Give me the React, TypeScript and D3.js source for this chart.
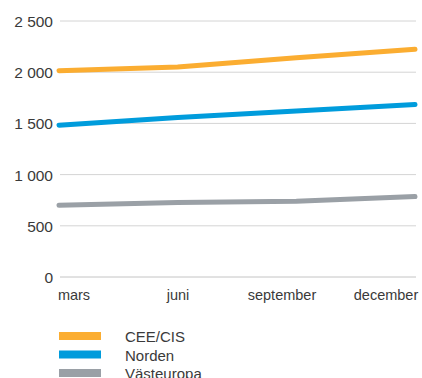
import React from "react";
import * as d3 from "d3";

const months = ["mars", "juni", "september", "december"];
const seriesNames = ["CEE/CIS", "Norden", "Västeuropa"];
const ceeCis = [2015, 2050, 2140, 2225];
const norden = [1483, 1558, 1622, 1685];
const vasteuropa = [700, 728, 740, 785];
const yTicks = [0, 500, 1000, 1500, 2000, 2500];
const colors = ["#fbad31", "#009cdc", "#9aa0a6"];

const W = 422;
const H = 378;

const locale = d3.formatLocale({
  decimal: ",",
  thousands: " ",
  grouping: [3],
  currency: ["", " kr"],
});
const fmt = locale.format(",");

export default function App() {
  const x = d3.scalePoint<string>().domain(months).range([59, 415]);
  const xLabel = d3.scalePoint<string>().domain(months).range([74, 386]);
  const y = d3.scaleLinear().domain([0, 2500]).range([277, 21]);
  const line = d3
    .line<number>()
    .x((_, i) => x(months[i]) as number)
    .y((v) => y(v));
  const series = [ceeCis, norden, vasteuropa];
  const font = "'Liberation Sans', Arial, Helvetica, sans-serif";

  return (
    <svg
      width={W}
      height={H}
      style={{ position: "absolute", left: 0, top: 0, background: "#fff" }}
      fontFamily={font}
    >
      {yTicks.map((t) => (
        <g key={t}>
          <line
            x1={60}
            x2={416}
            y1={y(t)}
            y2={y(t)}
            stroke={t === 0 ? "#c4c4c4" : "#d4d4d4"}
            strokeWidth={1}
          />
          <text
            x={53}
            y={y(t) + 6}
            textAnchor="end"
            fontSize={15.5}
            fill="#3a3a3a"
          >
            {fmt(t)}
          </text>
        </g>
      ))}
      {months.map((m) => (
        <text
          key={m}
          x={xLabel(m)}
          y={300}
          textAnchor="middle"
          fontSize={14.5}
          fill="#3a3a3a"
        >
          {m}
        </text>
      ))}
      {series
        .map((s, i) => ({ s, i }))
        .reverse()
        .map(({ s, i }) => (
          <path
            key={i}
            d={line(s) ?? ""}
            fill="none"
            stroke={colors[i]}
            strokeWidth={5}
            strokeLinecap="round"
            strokeLinejoin="round"
          />
        ))}
      {seriesNames.map((n, i) => (
        <g key={n} transform={`translate(0, ${332 + i * 18.5})`}>
          <rect x={59} y={0} width={42} height={8} fill={colors[i]} />
          <text x={125} y={10} fontSize={15} fill="#3a3a3a">
            {n}
          </text>
        </g>
      ))}
    </svg>
  );
}
